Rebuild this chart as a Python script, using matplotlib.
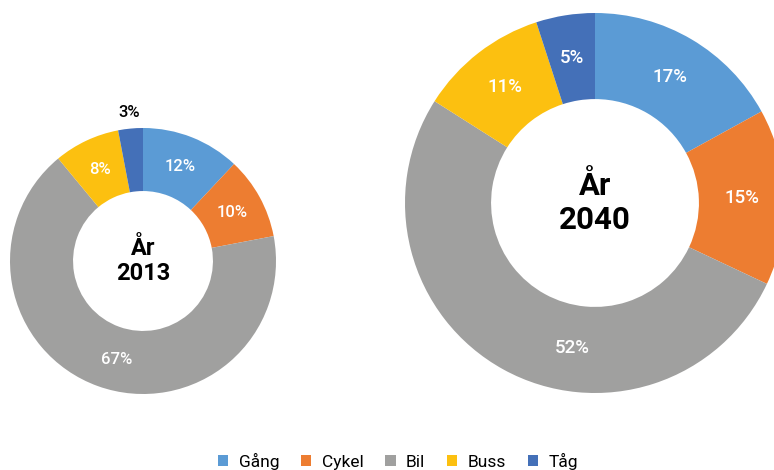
import matplotlib
matplotlib.use("Agg")
import matplotlib.pyplot as plt
from matplotlib.patches import Patch
import numpy as np

plt.rcParams['font.family'] = ['Roboto', 'DejaVu Sans']

categories = ["Gång", "Cykel", "Bil", "Buss", "Tåg"]
values_2013 = [12, 10, 67, 8, 3]
values_2040 = [17, 15, 52, 11, 5]
colors = ["#5B9BD5", "#ED7D31", "#A0A09F", "#FCC010", "#4470B8"]

W, H = 774, 470
fig = plt.figure(figsize=(W / 100, H / 100), dpi=100)


def donut(left, top, size, vals, title, inner, lab_fs, title_fs,
          outside_idx=(), angle_shift=None):
    angle_shift = angle_shift or {}
    ax = fig.add_axes([left / W, 1 - (top + size) / H, size / W, size / H])
    width = 1 - inner
    ax.pie(vals, colors=colors, startangle=90, counterclock=False,
           radius=1, wedgeprops=dict(width=width, linewidth=0))
    total = sum(vals)
    cum = 0
    for i, v in enumerate(vals):
        mid = 90 - (cum + v / 2) / total * 360 + angle_shift.get(i, 0)
        cum += v
        if i in outside_idx:
            r = 1.12
            col = "black"
        else:
            r = 1 - width / 2
            col = "white"
        ang = np.deg2rad(mid)
        ax.text(r * np.cos(ang), r * np.sin(ang), f"{v}%", ha="center", va="center",
                color=col, fontsize=lab_fs, fontweight="medium")
    ax.text(0, 0, title, ha="center", va="center", fontsize=title_fs,
            fontweight="bold", color="black", linespacing=1.15)
    ax.set_xlim(-1, 1)
    ax.set_ylim(-1, 1)
    ax.set_aspect("auto")
    ax.axis("off")
    return ax


donut(10, 128, 266, values_2013, "År\n2013", 0.526, 12, 17,
      outside_idx=(4,), angle_shift={2: 5})
donut(405, 13, 380, values_2040, "År\n2040", 0.547, 13.5, 22.5,
      angle_shift={2: 20})

handles = [Patch(facecolor=c, edgecolor="none") for c in colors]
fig.legend(handles, categories, loc="center", bbox_to_anchor=(398 / W, 1 - 461 / H),
           ncol=5, frameon=False, fontsize=12.5, handlelength=0.6, handleheight=0.6,
           handletextpad=0.6, columnspacing=1.25)

fig.savefig("out.png", dpi=100, facecolor="white")
